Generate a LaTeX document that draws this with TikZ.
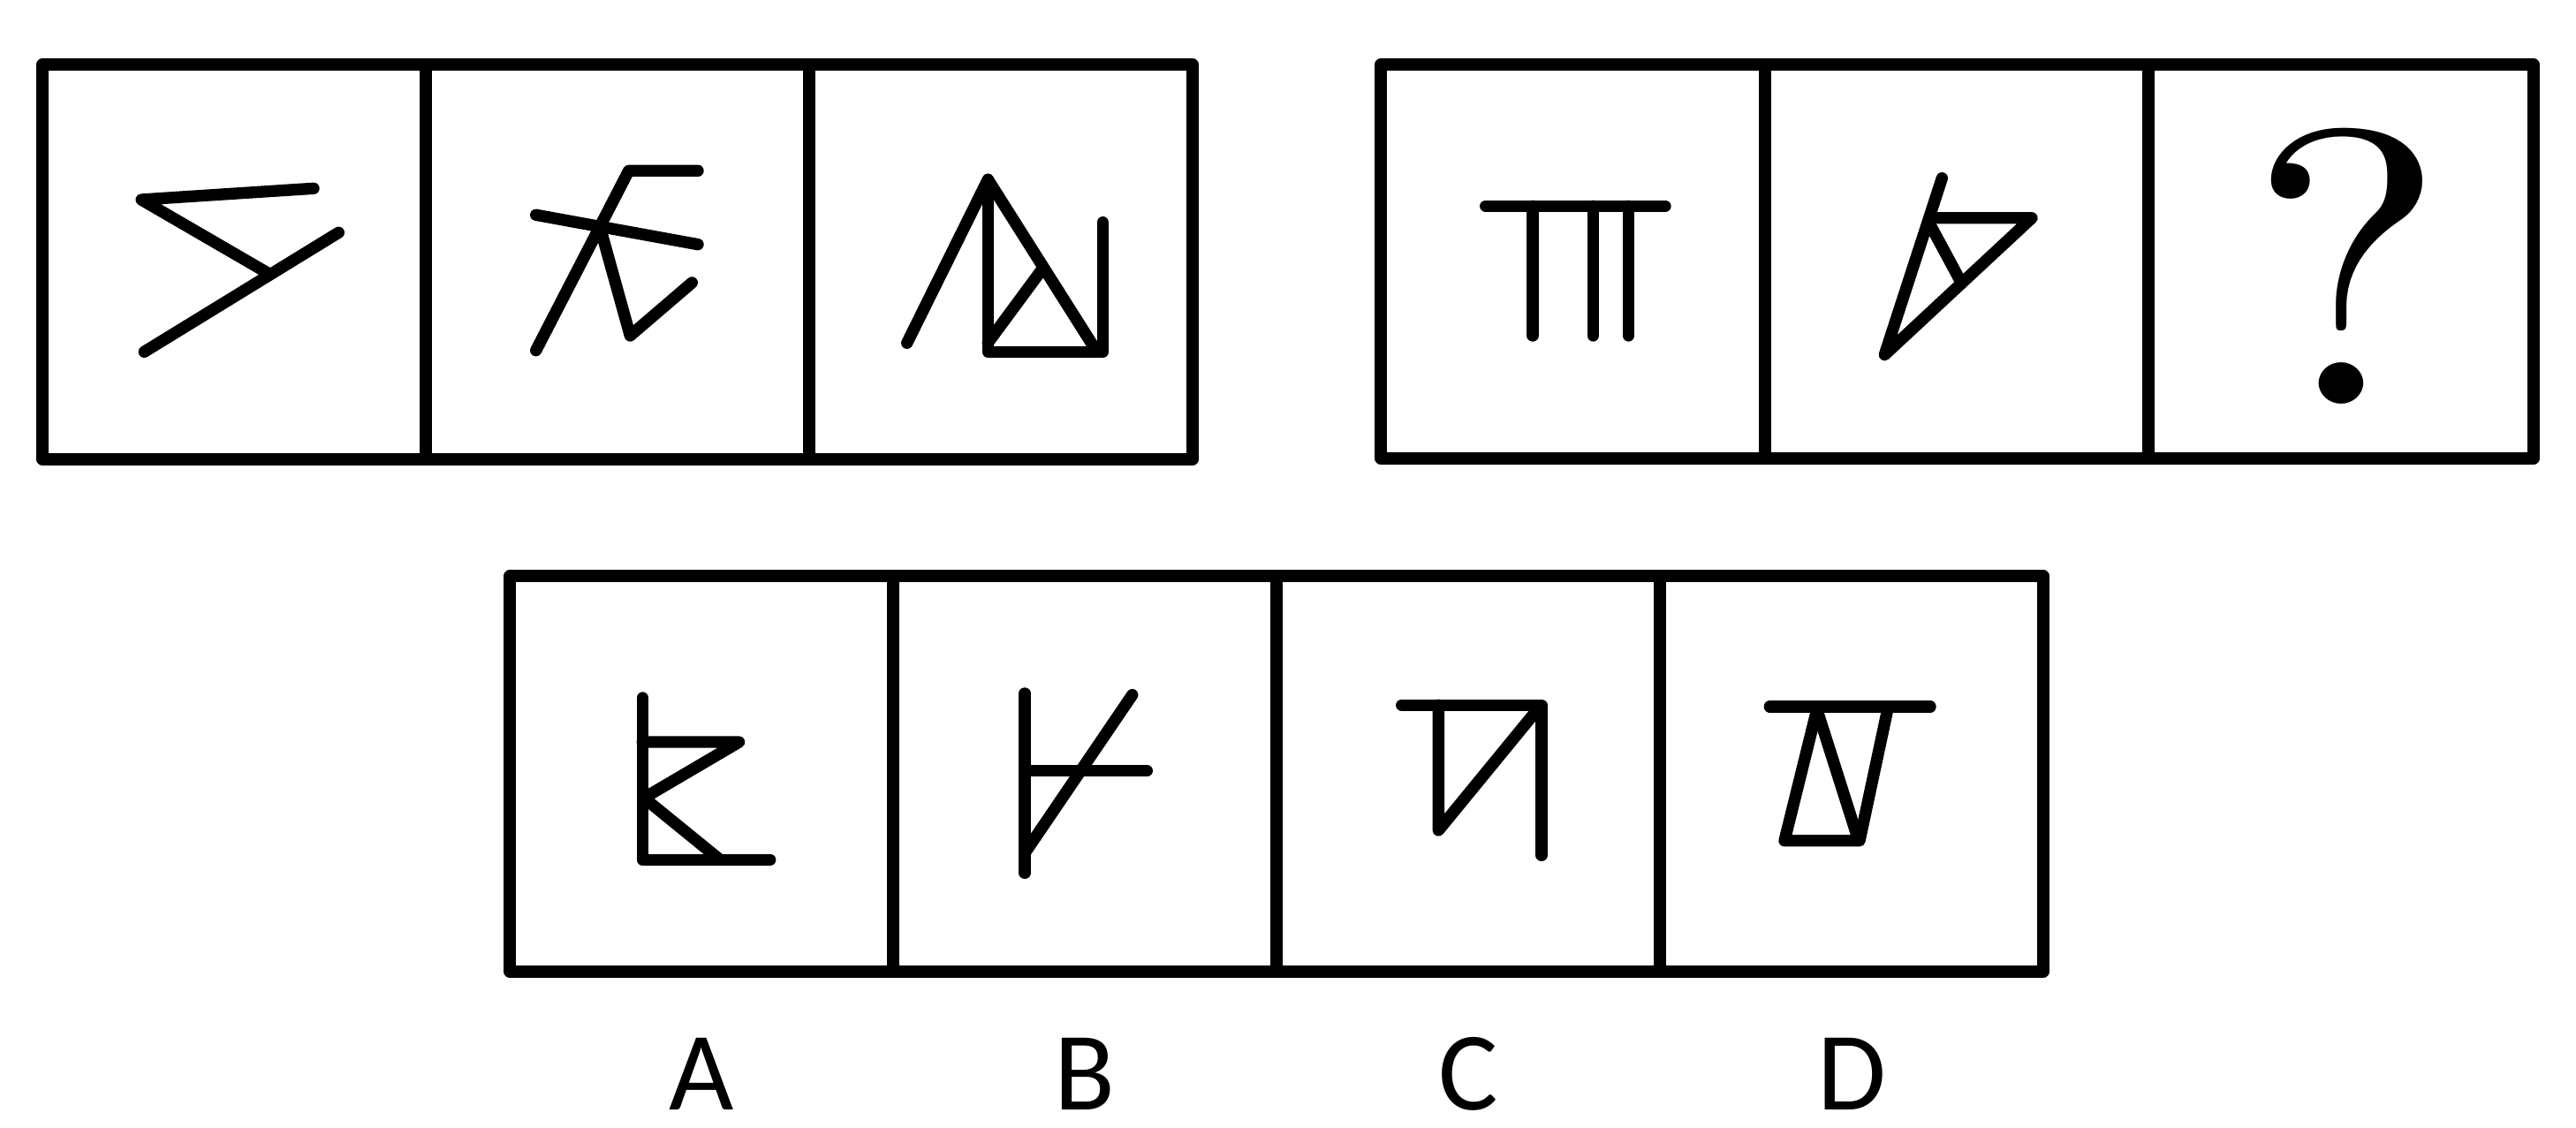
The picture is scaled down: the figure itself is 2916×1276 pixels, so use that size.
\documentclass[tikz,border=0pt]{standalone}
\usepackage{fontspec}
\newfontfamily\labelfont{Carlito}
\tikzset{
  frame/.style={line width=3.8pt, line join=round},
  glyph/.style={line width=3.8pt, line cap=round, line join=round},
  optlabel/.style={font=\labelfont\fontsize{36}{40}\selectfont, anchor=base, inner sep=0pt},
}
\begin{document}
\begin{tikzpicture}[x=0.01cm,y=-0.01cm]
\useasboundingbox (0,0) rectangle (2916,1276);
\fill[white] (0,0) rectangle (2916,1276);
% ---------- top-left group ----------
\draw[frame] (48,73) rectangle (1350,520);
\draw[frame] (482,73) -- (482,520) (916,73) -- (916,520);
% figure 1
\draw[glyph] (355,213.3) -- (160,226) -- (301.7,308.3);
\draw[glyph] (163.3,398.3) -- (383.3,263.3);
% figure 2
\draw[glyph] (790,193.3) -- (711.7,193.3) -- (606.7,396.7);
\draw[glyph] (606.7,243.3) -- (790,276.7);
\draw[glyph] (679,256.5) -- (713.3,380) -- (783.3,320);
% figure 3
\draw[glyph] (1026.7,388.3) -- (1118.3,203.3) -- (1241.7,398.3);
\draw[glyph] (1118.3,203.3) -- (1118.3,398.3) -- (1248.3,398.3) -- (1248.3,251.7);
\draw[glyph] (1118.3,388) -- (1178.3,306.7);
% ---------- top-right group ----------
\draw[frame] (1563,73) rectangle (2868,519);
\draw[frame] (1998,73) -- (1998,519) (2432,73) -- (2432,519);
% figure 4
\draw[glyph] (1681.7,233.3) -- (1885,233.3);
\draw[glyph] (1735,233.3) -- (1735,380);
\draw[glyph] (1803.3,233.3) -- (1803.3,380);
\draw[glyph] (1843.3,233.3) -- (1843.3,380);
% figure 5
\draw[glyph] (2198.3,201.7) -- (2133.3,401.7) -- (2300,246.7) -- (2183.7,246.7);
\draw[glyph] (2183,251) -- (2220.5,320.6);
% question mark
\node[inner sep=0pt] (qmark) at (2657,301) {\resizebox{2.25cm}{3.12cm}{?}};
% ---------- options ----------
\draw[frame] (577,652) rectangle (2313,1100);
\draw[frame] (1011,652) -- (1011,1100) (1445,652) -- (1445,1100) (1879,652) -- (1879,1100);
% option A
\draw[glyph] (727.3,790) -- (727.3,973.3) -- (871.7,973.3);
\draw[glyph] (727.3,840) -- (836.7,840) -- (729,903.3) -- (815,973.3);
% option B
\draw[glyph] (1160,785) -- (1160,988.3);
\draw[glyph] (1160,872.7) -- (1298.3,872.7);
\draw[glyph] (1281.7,786.7) -- (1160,965.7);
% option C
\draw[glyph] (1586.7,798.3) -- (1745,798.3) -- (1745,968.3);
\draw[glyph] (1628.3,798.3) -- (1628.3,940) -- (1743,800);
% option D
\draw[glyph] (2003.3,800) -- (2185,800);
\draw[glyph] (2056.7,803.3) -- (2020,951.7) -- (2105,951.7) -- (2136.7,803.3);
\draw[glyph] (2056.7,803.3) -- (2103,949);
% labels
\node[optlabel] (la) at (794,1256) {A};
\node[optlabel] (lb) at (1228,1256) {B};
\node[optlabel] (lc) at (1662,1256) {C};
\node[optlabel] (ld) at (2096,1256) {D};
\end{tikzpicture}
\end{document}
